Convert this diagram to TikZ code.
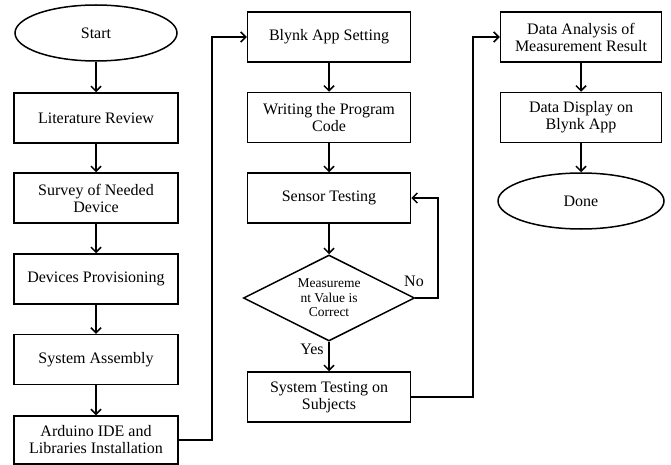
\documentclass[tikz,border=0pt]{standalone}
\usepackage{fontspec}
\setmainfont{Liberation Serif}
\usetikzlibrary{shapes.geometric,arrows.meta}
\begin{document}
\begin{tikzpicture}[x=1pt,y=-1pt,
  every node/.style={font=\fontsize{16}{17}\selectfont},
  procbox/.style={draw,line width=1.5pt,rectangle,minimum height=50pt,inner sep=1pt,align=center},
  termnode/.style={draw,line width=1.5pt,ellipse,inner sep=0pt},
  decnode/.style={draw,line width=1.5pt,diamond,aspect=2,inner sep=1pt,minimum width=171pt,minimum height=86pt,align=center,font=\fontsize{13.5}{14.5}\selectfont},
  arr/.style={line width=1.5pt,-{Straight Barb[length=5pt,width=10pt]}},
  conn/.style={line width=1.5pt},
  lbl/.style={inner sep=0pt}]
\useasboundingbox (0,0) rectangle (671,465);
% column 1
\node[termnode,minimum width=162pt,minimum height=56pt] (start) at (96,33) {Start};
\node[procbox,minimum width=164pt] (lit) at (96,118) {Literature Review};
\node[procbox,minimum width=164pt] (survey) at (96,198) {Survey of Needed\\Device};
\node[procbox,minimum width=164pt] (prov) at (96,279) {Devices Provisioning};
\node[procbox,minimum width=164pt] (asm) at (96,359.5) {System Assembly};
\node[procbox,minimum width=164pt,minimum height=48pt] (ard) at (96,440) {Arduino IDE and\\Libraries Installation};
% column 2
\node[procbox,minimum width=163pt] (blynk) at (329,37) {Blynk App Setting};
\node[procbox,minimum width=163pt] (code) at (329,117.5) {Writing the Program\\Code};
\node[procbox,minimum width=163pt] (sensor) at (329,198) {Sensor Testing};
\node[decnode] (dia) at (329,298) {Measureme\\nt Value is\\Correct};
\node[procbox,minimum width=163pt] (sys) at (329,397) {System Testing on\\Subjects};
% column 3
\node[procbox,minimum width=161pt] (ana) at (581,37) {Data Analysis of\\Measurement Result};
\node[procbox,minimum width=161pt] (disp) at (581,117.5) {Data Display on\\Blynk App};
\node[termnode,minimum width=166pt,minimum height=56pt] (done) at (581,201) {Done};
% labels
\node[lbl] (no) at (414,281) {No};
\node[lbl] (yes) at (312,349) {Yes};
% helper coordinates
\coordinate (c1) at (212,37);
\coordinate (c2) at (438,298);
\coordinate (c3) at (473,37);
% connectors
\draw[arr] (start) -- (lit);
\draw[arr] (lit) -- (survey);
\draw[arr] (survey) -- (prov);
\draw[arr] (prov) -- (asm);
\draw[arr] (asm) -- (ard);
\draw[arr] (ard.east) -| (c1) -- (blynk.west);
\draw[arr] (blynk) -- (code);
\draw[arr] (code) -- (sensor);
\draw[arr] (sensor) -- (dia);
\draw[arr] (dia.east) -- (c2) |- (sensor.east);
\draw[arr] (dia.south) -- (sys.north);
\draw[arr] (sys.east) -| (c3) -- (ana.west);
\draw[arr] (ana) -- (disp);
\draw[arr] (disp) -- (done);
\end{tikzpicture}
\end{document}
